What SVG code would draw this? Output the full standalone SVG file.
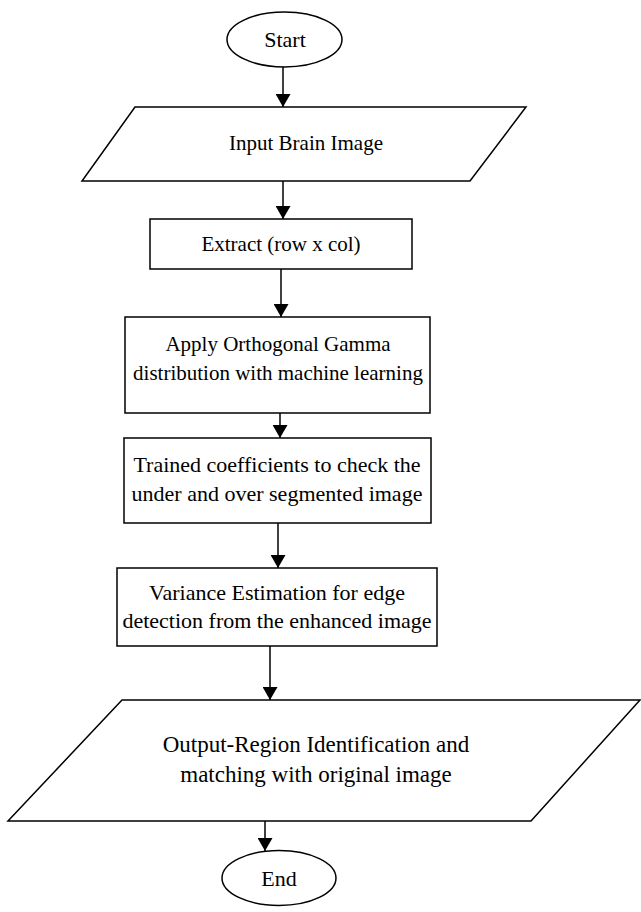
<svg xmlns="http://www.w3.org/2000/svg" width="641" height="912" viewBox="0 0 641 912">
<defs>
<marker id="ah" markerWidth="13" markerHeight="15" refX="13" refY="7.5" orient="auto" markerUnits="userSpaceOnUse">
<path d="M0,0 L13,7.5 L0,15 Z" fill="#000"/>
</marker>
<style>
.s{fill:#fff;stroke:#000;stroke-width:1.5}
.t{font-family:"Liberation Serif","Times New Roman",serif;font-size:21px;fill:#000;text-anchor:middle}
.e{font-size:22px}
.o{font-size:23px}
.c{stroke:#000;stroke-width:1.5;fill:none;marker-end:url(#ah)}
</style>
</defs>
<rect width="641" height="912" fill="#fff"/>
<g id="connectors">
<line class="c" x1="283" y1="67" x2="283" y2="107"/>
<line class="c" x1="283" y1="181" x2="283" y2="219"/>
<line class="c" x1="281" y1="269" x2="281" y2="317"/>
<line class="c" x1="280" y1="413" x2="280" y2="438"/>
<line class="c" x1="278" y1="523" x2="278" y2="568"/>
<line class="c" x1="270" y1="646" x2="270" y2="700"/>
<line class="c" x1="265" y1="821" x2="265" y2="851"/>
</g>
<g id="start">
<ellipse class="s" cx="284.5" cy="39.5" rx="57.5" ry="27.5"/>
<text class="t e" x="285" y="47">Start</text>
</g>
<g id="input">
<polygon class="s" points="135,107 526,107 470,181 82,181"/>
<text class="t" x="306" y="150">Input Brain Image</text>
</g>
<g id="extract">
<rect class="s" x="150" y="219" width="262" height="50"/>
<text class="t" x="281" y="251">Extract (row x col)</text>
</g>
<g id="apply">
<rect class="s" x="125" y="317" width="305" height="96"/>
<text class="t" x="278" y="351">Apply Orthogonal Gamma</text>
<text class="t" x="278" y="380">distribution with machine learning</text>
</g>
<g id="trained">
<rect class="s" x="124" y="438" width="307" height="85"/>
<text class="t e" x="277" y="472">Trained coefficients to check the</text>
<text class="t e" x="277" y="501">under and over segmented image</text>
</g>
<g id="variance">
<rect class="s" x="117" y="568" width="320" height="78"/>
<text class="t e" x="277" y="600">Variance Estimation for edge</text>
<text class="t e" x="277" y="628">detection from the enhanced image</text>
</g>
<g id="output">
<polygon class="s" points="122,700 640,700 531,821 8,821"/>
<text class="t o" x="316" y="752">Output-Region Identification and</text>
<text class="t o" x="316" y="782">matching with original image</text>
</g>
<g id="end">
<ellipse class="s" cx="279" cy="878" rx="57" ry="27.5"/>
<text class="t e" x="279" y="886">End</text>
</g>
</svg>
